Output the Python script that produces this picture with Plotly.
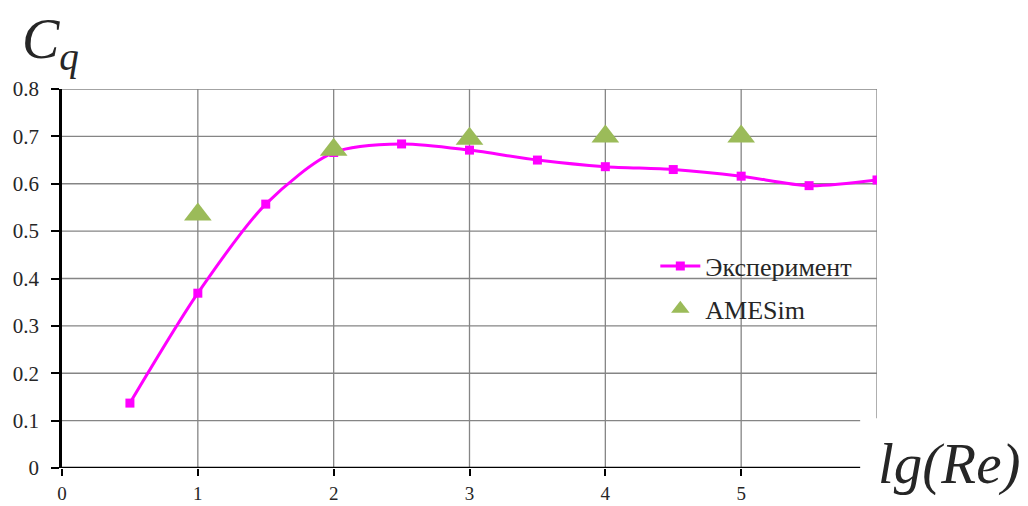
import plotly.graph_objects as go

# Experimental discharge coefficient vs lg(Re)
exp_x = [0.5, 1.0, 1.5, 2.0, 2.5, 3.0, 3.5, 4.0, 4.5, 5.0, 5.5, 6.0]
exp_y = [0.137, 0.369, 0.557, 0.666, 0.684, 0.671, 0.650, 0.636, 0.630, 0.616, 0.596, 0.608]

# AMESim simulation results
sim_x = [1, 2, 3, 4, 5]
sim_y = [0.535, 0.672, 0.695, 0.700, 0.700]

x_ticks = [0, 1, 2, 3, 4, 5]
y_ticks = [0, 0.1, 0.2, 0.3, 0.4, 0.5, 0.6, 0.7, 0.8]
y_ticktext = ["0", "0.1", "0.2", "0.3", "0.4", "0.5", "0.6", "0.7", "0.8"]

SERIF = "Liberation Serif"
GRID = "#858585"
TEXT = "#262626"

fig = go.Figure()

fig.add_trace(go.Scatter(
    x=exp_x, y=exp_y, name="Эксперимент", mode="lines+markers",
    line=dict(color="#ff00ff", width=3, shape="spline", smoothing=0.8),
    marker=dict(symbol="square", size=9, color="#ff00ff"),
    legendgroup="a",
))
fig.add_trace(go.Scatter(
    x=sim_x, y=sim_y, name="AMESim", mode="markers",
    marker=dict(symbol="triangle-up", size=24, color="#9bbb59"),
    legendgroup="b",
))

shapes = []
# horizontal grid lines (the two lowest stop short of the axis label)
for v in y_ticks[1:]:
    x_end = 5.876 if v <= 0.1 else 6
    shapes.append(dict(type="line", xref="x", yref="y", x0=0, x1=x_end, y0=v, y1=v,
                       line=dict(color=GRID, width=1.3), layer="below"))
# vertical grid lines
for v in [1, 2, 3, 4, 5]:
    shapes.append(dict(type="line", xref="x", yref="y", x0=v, x1=v, y0=0, y1=0.8,
                       line=dict(color=GRID, width=1.3), layer="below"))
shapes.append(dict(type="line", xref="x", yref="y", x0=6, x1=6, y0=0.105, y1=0.8,
                   line=dict(color=GRID, width=1.3), layer="below"))
# x axis line
shapes.append(dict(type="line", xref="x", yref="y", x0=0, x1=5.876, y0=0, y1=0,
                   line=dict(color="black", width=2.5), layer="above"))

fig.update_layout(
    width=1028, height=506,
    margin=dict(l=62, r=151, t=89, b=38),
    paper_bgcolor="white", plot_bgcolor="white",
    shapes=shapes,
    showlegend=True,
    legend=dict(
        x=0.728, y=0.595, xanchor="left", yanchor="top",
        bgcolor="rgba(0,0,0,0)", font=dict(family=SERIF, size=26, color=TEXT),
        tracegroupgap=6, itemwidth=40,
    ),
    xaxis=dict(
        range=[0, 6], tickvals=x_ticks, showgrid=False, zeroline=False,
        showline=False, ticks="outside", ticklen=7, tickwidth=2, tickcolor="black",
        ticklabelstandoff=1, automargin=False,
        tickfont=dict(family=SERIF, size=19, color=TEXT),
    ),
    yaxis=dict(
        range=[0, 0.8], tickvals=y_ticks, ticktext=y_ticktext,
        showgrid=False, zeroline=False,
        showline=True, linecolor="black", linewidth=2.5,
        ticks="outside", ticklen=8, tickwidth=2, tickcolor="black",
        ticklabelstandoff=8, automargin=False,
        tickfont=dict(family=SERIF, size=21, color=TEXT),
    ),
    annotations=[
        dict(text="<i>C<sub>q</sub></i>", xref="paper", yref="paper",
             x=-0.052, y=1.12, xanchor="left", yanchor="middle", showarrow=False,
             font=dict(family=SERIF, size=56, color=TEXT)),
        dict(text="<i>lg(Re)</i>", xref="paper", yref="paper",
             x=0.999, y=0.01, xanchor="left", yanchor="middle", showarrow=False,
             font=dict(family=SERIF, size=57, color=TEXT)),
    ],
)

fig.write_html("out.html")
